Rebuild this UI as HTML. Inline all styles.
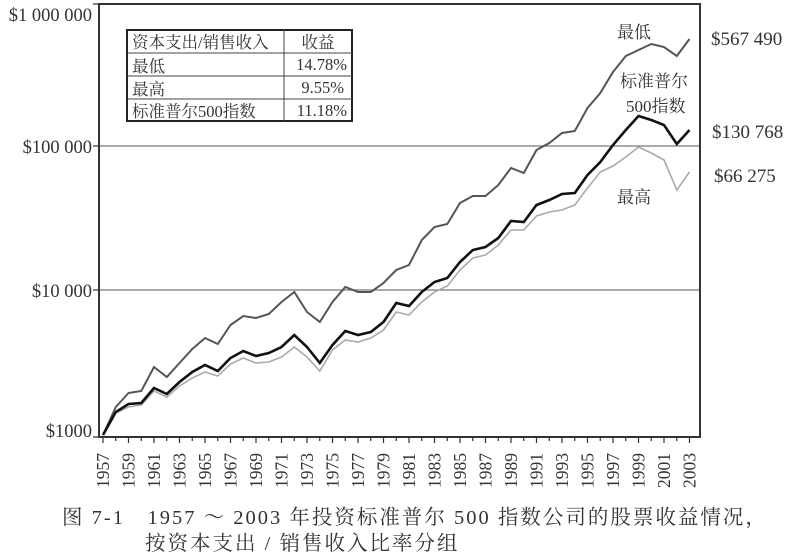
<!DOCTYPE html><html><head><meta charset="utf-8"><style>body{margin:0;background:#fff}svg{display:block}text{font-family:"Liberation Serif","Noto Serif CJK SC",serif;fill:#333}</style></head><body>
<svg width="788" height="556" viewBox="0 0 788 556" xmlns="http://www.w3.org/2000/svg">
<rect width="788" height="556" fill="#fff"/>
<line x1="99" y1="146" x2="700" y2="146" stroke="#777" stroke-width="1.2"/>
<line x1="99" y1="290" x2="700" y2="290" stroke="#777" stroke-width="1.2"/>
<path d="M99 4 H700 V437 H99 Z" fill="none" stroke="#333" stroke-width="2"/>
<g stroke="#333" stroke-width="1.2"><line x1="93" y1="4" x2="99" y2="4"/><line x1="93" y1="146" x2="99" y2="146"/><line x1="93" y1="290" x2="99" y2="290"/><line x1="93" y1="437" x2="99" y2="437"/></g>
<g font-size="18.5" text-anchor="end"><text x="92" y="21">$1 000 000</text><text x="92" y="153">$100 000</text><text x="92" y="297">$10 000</text><text x="92" y="437">$1000</text></g>
<g id="ticks" stroke="#333" stroke-width="1.2"></g>
<g id="xl" font-size="17.5"></g>
<polyline id="lo" fill="none" stroke="#555" stroke-width="2"/>
<polyline id="hi" fill="none" stroke="#aaa" stroke-width="1.6"/>
<polyline id="sp" fill="none" stroke="#111" stroke-width="2.6"/>
<g font-size="17"><text x="617" y="38">最低</text><text x="620" y="87">标准普尔</text><text x="626" y="112">500指数</text><text x="617" y="203">最高</text></g>
<g font-size="19"><text x="711" y="45">$567 490</text><text x="712" y="138">$130 768</text><text x="714" y="182">$66 275</text></g>
<g>
<rect x="127" y="30" width="225" height="91" fill="#fff" stroke="#222" stroke-width="2"/>
<line x1="127" y1="53" x2="352" y2="53" stroke="#444"/><line x1="127" y1="76" x2="352" y2="76" stroke="#444"/><line x1="127" y1="99" x2="352" y2="99" stroke="#444"/>
<line x1="284" y1="30" x2="284" y2="121" stroke="#444"/>
<g font-size="16.5"><text x="132" y="48">资本支出/销售收入</text><text x="132" y="72">最低</text><text x="132" y="95">最高</text><text x="132" y="117">标准普尔500指数</text>
<text x="318" y="48" text-anchor="middle">收益</text><text x="347" y="70" text-anchor="end">14.78%</text><text x="344" y="93" text-anchor="end">9.55%</text><text x="347" y="116" text-anchor="end">11.18%</text></g>
</g>
<g font-size="20.5" letter-spacing="2"><text x="62" y="524">图 7-1　1957 ～ 2003 年投资标准普尔 500 指数公司的股票收益情况，</text><text x="145" y="550">按资本支出 / 销售收入比率分组</text></g>
</svg>
<script>
var lo=[435,407,393,391,367,377,363,349,338,344,325,316,318,314,302,292,312,322,302,287,292,292,283,270,265,240,227,224,203,196,196,185,168,173,150,143,133,131,108,93,72,56,50,44,47,56,39];
var sp=[435,412,404,403,388,394,382,372,365,371,358,351,356,353,347,335,347,363,345,331,335,332,322,303,306,292,282,278,262,250,247,238,221,222,205,200,194,193,175,162,145,130,116,120,125,144,130];
var hi=[435,413,407,405,391,397,386,378,372,376,364,358,363,362,357,347,357,371,350,340,342,338,330,312,315,302,292,286,270,258,255,245,230,230,216,212,210,205,188,172,166,157,147,153,160,190,172];
function X(i){return 103+12.75*i}
function pts(a){return a.map(function(v,i){return X(i).toFixed(1)+","+v}).join(" ")}
document.getElementById("lo").setAttribute("points",pts(lo));
document.getElementById("sp").setAttribute("points",pts(sp));
document.getElementById("hi").setAttribute("points",pts(hi));
var t="",l="";
for(var i=0;i<=46;i++){var x=X(i);t+='<line x1="'+x+'" y1="437" x2="'+x+'" y2="'+(i%2?441:443)+'"/>';
if(i%2==0){l+='<text transform="translate('+(x+6)+',488) rotate(-90)">'+(1957+i)+'</text>';}}
document.getElementById("ticks").innerHTML=t;document.getElementById("xl").innerHTML=l;
</script>
</body></html>
